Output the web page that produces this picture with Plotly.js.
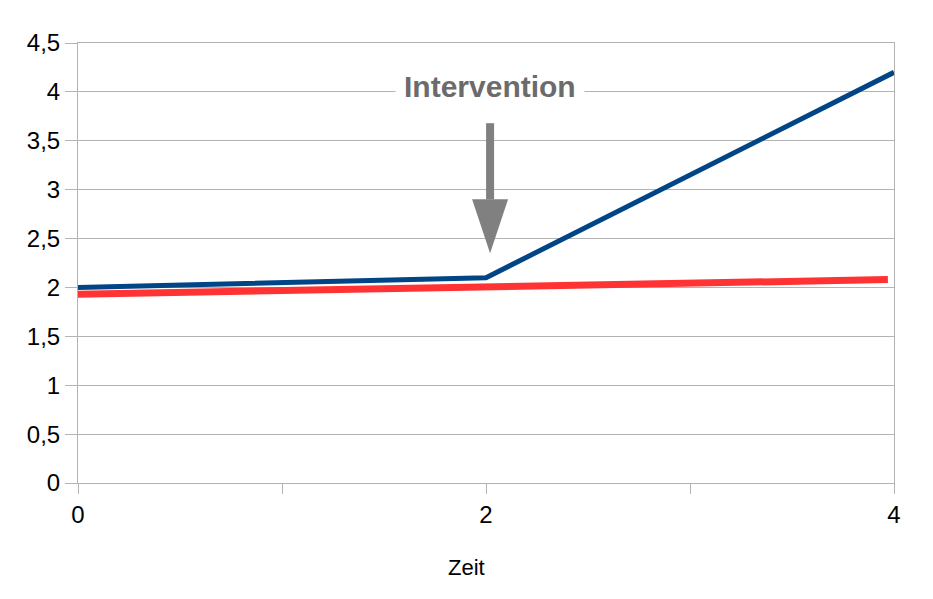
<!DOCTYPE html>
<html>
<head>
<meta charset="utf-8">
<script src="https://cdn.plot.ly/plotly-3.0.1.min.js"></script>
<style>
  html, body { margin: 0; padding: 0; background: #fff; }
  #chart { width: 933px; height: 599px; }
</style>
</head>
<body>
<div id="chart"></div>
<script>
// data
const zeit = [0, 2, 4];
const mitIntervention = [2.0, 2.1, 4.2];
const zeitOhne = [0, 2, 3.97];
const ohneIntervention = [1.93, 2.005, 2.08];

const xTickVals = [0, 1, 2, 3, 4];
const xTickText = ['0', '', '2', '', '4'];

// arrow: x position, top of shaft, base of head, tip (y values)
const arrowX = 2.02;
const arrowTop = 3.68;
const arrowHeadBase = 2.9;
const arrowTip = 2.35;
const labelY = 4.06;

const grey = '#b3b3b3';
const W = 933, H = 599;
const M = { l: 78, r: 39, t: 43, b: 116 };

// the x title is centred on the whole picture, not on the plot area
const titleX = (W / 2 - M.l) / (W - M.l - M.r);

Plotly.newPlot('chart', [
  {
    x: zeitOhne,
    y: ohneIntervention,
    mode: 'lines',
    line: { color: '#ff3333', width: 7 },
    hoverinfo: 'skip'
  },
  {
    x: zeit,
    y: mitIntervention,
    mode: 'lines',
    line: { color: '#004586', width: 5 },
    hoverinfo: 'skip'
  }
], {
  width: W,
  height: H,
  margin: M,
  paper_bgcolor: '#fff',
  plot_bgcolor: '#fff',
  showlegend: false,
  separators: ',.',
  font: { family: 'Liberation Sans, Arial, sans-serif', color: '#000' },
  xaxis: {
    range: [0, 4],
    tickvals: xTickVals,
    ticktext: xTickText,
    showgrid: false,
    zeroline: false,
    showline: true,
    mirror: true,
    linecolor: grey,
    linewidth: 1,
    ticks: 'outside',
    ticklen: 10,
    tickcolor: grey,
    tickfont: { size: 24 }
  },
  yaxis: {
    range: [0, 4.5],
    dtick: 0.5,
    showgrid: true,
    gridcolor: grey,
    zeroline: true,
    zerolinecolor: grey,
    zerolinewidth: 2,
    showline: true,
    mirror: true,
    linecolor: grey,
    linewidth: 1,
    ticks: 'outside',
    ticklen: 12,
    tickcolor: grey,
    tickfont: { size: 24 }
  },
  shapes: [
    {
      type: 'line', xref: 'x', yref: 'y',
      x0: arrowX, x1: arrowX, y0: arrowTop, y1: arrowHeadBase,
      line: { color: '#808080', width: 8 }
    },
    {
      type: 'path', xref: 'x', yref: 'y',
      xsizemode: 'pixel', ysizemode: 'pixel',
      xanchor: arrowX, yanchor: arrowTip,
      path: 'M -18 54 L 18 54 L 0 0 Z',
      fillcolor: '#808080',
      line: { width: 0 }
    }
  ],
  annotations: [
    {
      x: arrowX, y: labelY, xref: 'x', yref: 'y',
      text: '<b>Intervention</b>',
      showarrow: false,
      font: { size: 30, color: '#6b6b6b' },
      bgcolor: '#fff',
      borderpad: 8
    },
    {
      x: titleX, y: 0, xref: 'paper', yref: 'paper',
      yshift: -99,
      text: 'Zeit',
      showarrow: false,
      font: { size: 22 }
    }
  ]
}, { staticPlot: true });
</script>
</body>
</html>
